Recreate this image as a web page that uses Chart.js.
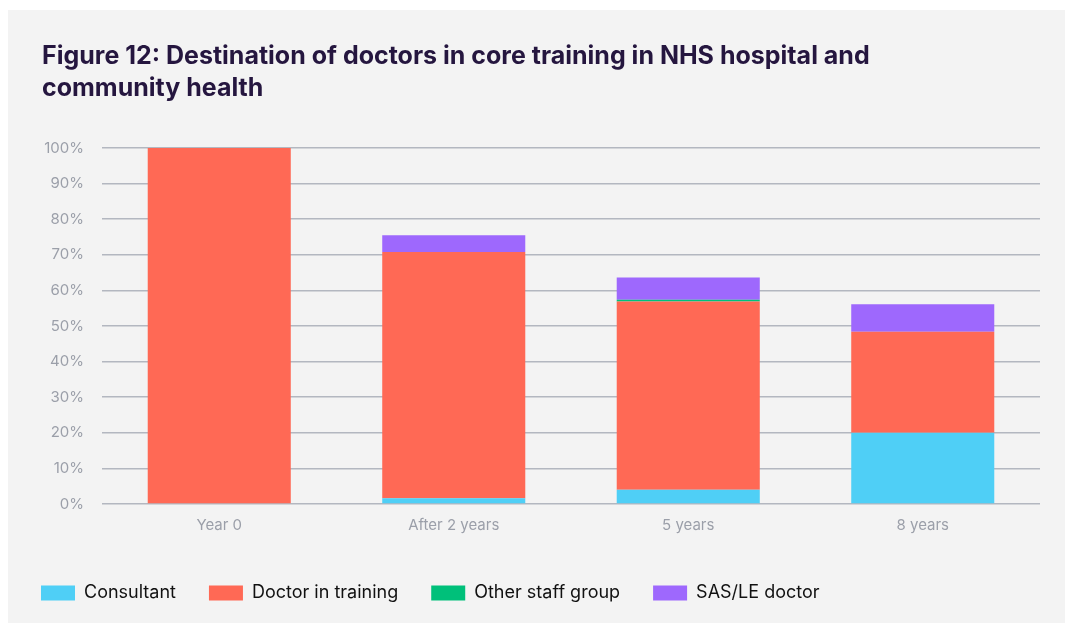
<!DOCTYPE html>
<html>
<head>
<meta charset="utf-8">
<script src="https://cdn.jsdelivr.net/npm/chart.js@4"></script>
<style>
  body { margin: 0; background: #ffffff; overflow: hidden; }
  #box { position: absolute; left: 8px; top: 10px; width: 1057px; height: 613px; background: #f3f3f3; }
  #box canvas { position: absolute; left: 0; top: 0; }
  h1 { position: absolute; left: 34px; top: 29px; margin: 0; width: 1000px;
       font-family: Inter, sans-serif; font-size: 25px; line-height: 32px; font-weight: bold; color: #25163f; }
</style>
</head>
<body>
<div id="box">
  <canvas id="myChart" width="1057" height="613"></canvas>
  <h1>Figure 12: Destination of doctors in core training in NHS hospital and<br>community health</h1>
</div>
<script>
// categories and series (percent of doctors)
var categories = ["Year 0", "After 2 years", "5 years", "8 years"];
var consultant = [0, 1.6, 4, 20];
var doctorInTraining = [100, 69.2, 52.9, 28.4];
var otherStaff = [0, 0, 0.5, 0];
var sasLe = [0, 4.7, 6.2, 7.7];
var yTicks = [0, 10, 20, 30, 40, 50, 60, 70, 80, 90, 100];

var seriesNames = ["Consultant", "Doctor in training", "Other staff group", "SAS/LE doctor"];
var seriesColors = ["#4fcff6", "#ff6955", "#00c07a", "#9e68fd"];
var seriesData = [consultant, doctorInTraining, otherStaff, sasLe];

var datasets = [];
for (var i = 0; i < seriesData.length; i++) {
  datasets.push({
    label: seriesNames[i],
    data: seriesData[i],
    backgroundColor: seriesColors[i],
    borderWidth: 0,
    barPercentage: 0.61,
    categoryPercentage: 1
  });
}

new Chart("myChart", {
  type: "bar",
  data: { labels: categories, datasets: datasets },
  options: {
    responsive: false,
    animation: false,
    layout: { padding: { left: 0, right: 25, top: 138, bottom: 11 } },
    plugins: {
      title: { display: false },
      legend: {
        position: "bottom",
        align: "start",
        labels: {
          boxWidth: 34,
          boxHeight: 15,
          color: "#111111",
          padding: 33,
          font: { family: "Inter", size: 18 }
        }
      },
      tooltip: { enabled: false }
    },
    scales: {
      x: {
        stacked: true,
        afterFit: function (axis) { axis.height += 13; },  // room between labels and legend
        grid: { display: false },
        border: { display: false },
        ticks: { color: "#9b9fa9", font: { family: "Inter", size: 15 }, padding: 4 }
      },
      y: {
        stacked: true,
        min: 0,
        max: 100,
        afterBuildTicks: function (axis) {
          axis.ticks = yTicks.map(function (v) { return { value: v }; });
        },
        afterFit: function (axis) { axis.width = 94; },
        grid: { color: "#b3b7c0", lineWidth: 1.5, drawTicks: false },
        border: { display: false },
        ticks: {
          color: "#9b9fa9",
          font: { family: "Inter", size: 15 },
          padding: 18,
          callback: function (v) { return v + "%"; }
        }
      }
    }
  }
});
</script>
</body>
</html>
